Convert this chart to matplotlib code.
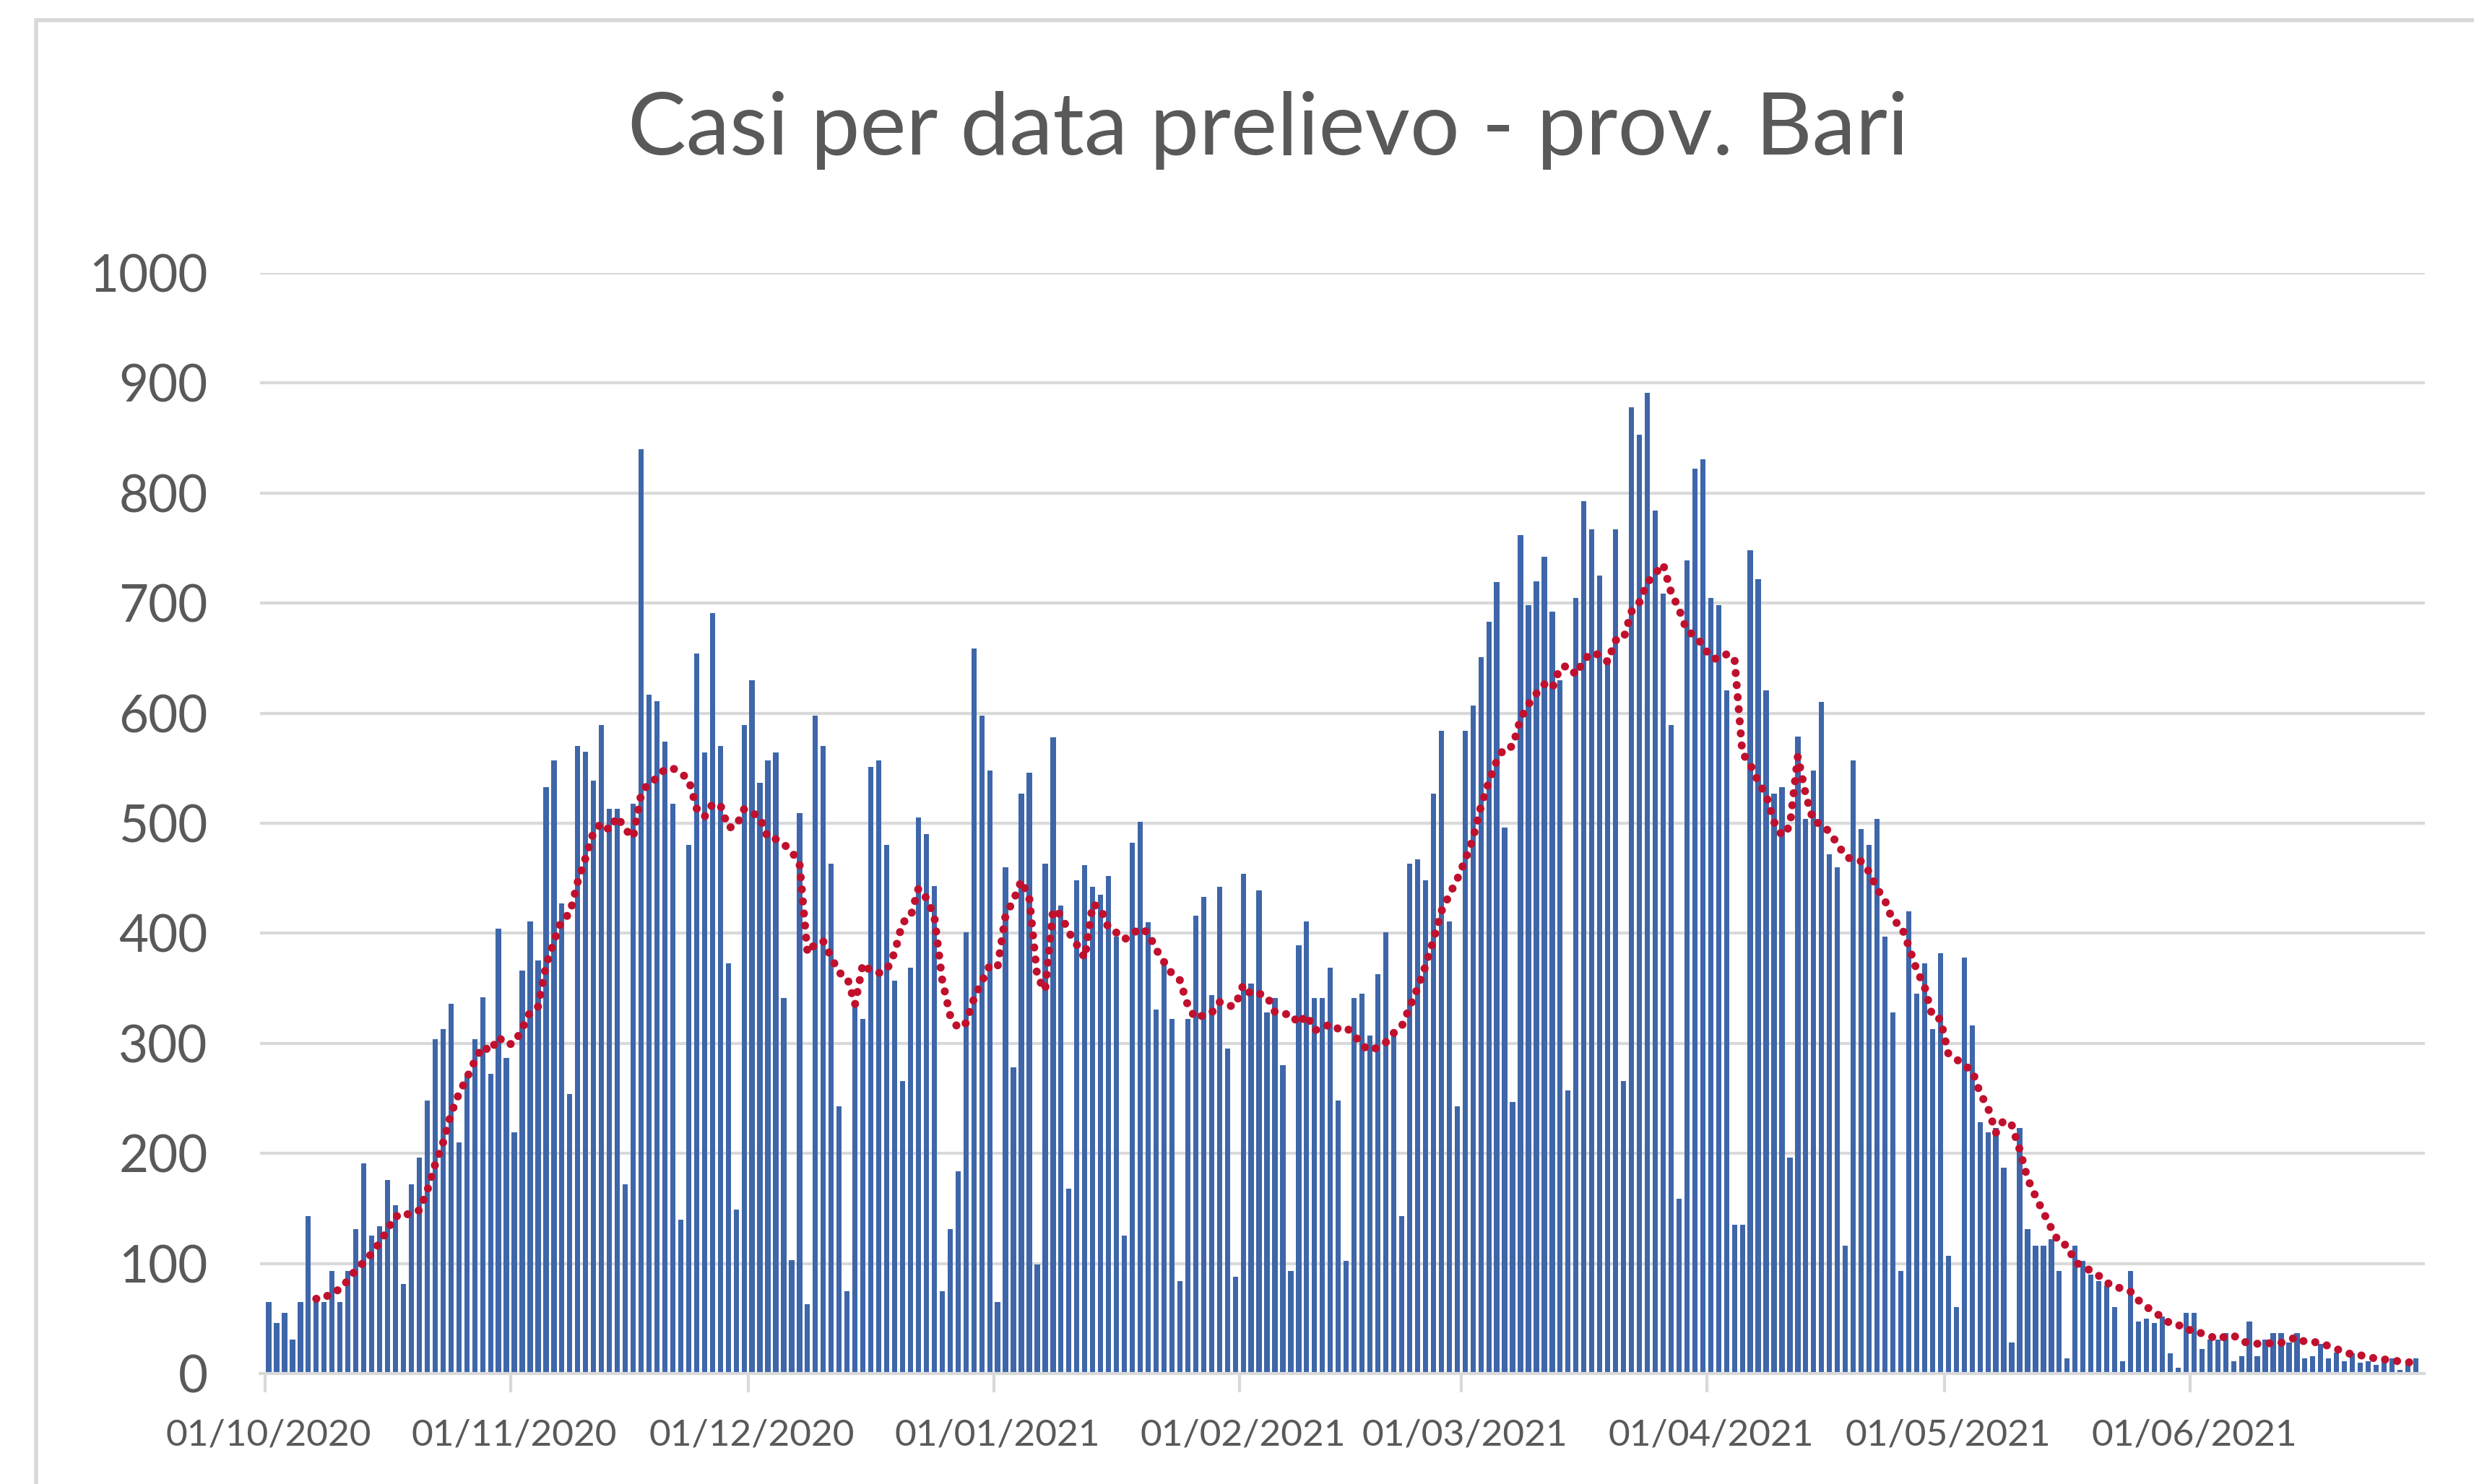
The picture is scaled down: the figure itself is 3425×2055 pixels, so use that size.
import numpy as np
import pandas as pd
import matplotlib
matplotlib.use('Agg')
import matplotlib.pyplot as plt
from matplotlib.patches import Rectangle

# casi giornalieri per data prelievo, a partire dal 01/10/2020
casi = [
    65, 46, 55, 31, 65, 143, 70, 65, 93, 65, 93, 131, 191, 125, 134, 176, 153, 81, 172, 196,
    248, 304, 313, 336, 210, 272, 304, 342, 272, 404, 287, 219, 366, 411, 375, 533, 557, 427, 254, 570,
    565, 539, 589, 513, 513, 172, 518, 840, 617, 611, 574, 518, 140, 480, 654, 564, 691, 570, 373, 149,
    589, 630, 537, 557, 564, 341, 103, 509, 63, 598, 570, 463, 243, 75, 336, 322, 551, 557, 480, 357,
    266, 369, 505, 490, 443, 75, 131, 184, 401, 659, 598, 548, 65, 460, 278, 527, 546, 99, 463, 578,
    425, 168, 448, 462, 442, 435, 452, 397, 125, 482, 501, 410, 331, 372, 322, 84, 322, 416, 433, 344,
    442, 295, 88, 454, 354, 439, 328, 341, 280, 93, 389, 411, 341, 341, 369, 248, 102, 341, 345, 307,
    363, 401, 307, 143, 463, 467, 448, 527, 584, 411, 243, 584, 607, 651, 683, 719, 496, 247, 762, 698,
    720, 742, 692, 630, 257, 705, 793, 767, 725, 650, 767, 266, 878, 853, 891, 784, 709, 589, 159, 739,
    822, 831, 705, 698, 621, 135, 135, 748, 722, 621, 527, 533, 196, 579, 504, 548, 610, 472, 460, 116,
    557, 495, 480, 504, 397, 328, 93, 420, 345, 373, 313, 382, 107, 60, 378, 316, 228, 219, 223, 187,
    28, 223, 131, 116, 116, 122, 93, 14, 116, 102, 90, 84, 80, 60, 11, 93, 47, 50, 46, 52,
    18, 5, 55, 55, 22, 31, 31, 37, 11, 16, 47, 16, 31, 37, 37, 28, 37, 14, 16, 27,
    14, 19, 11, 18, 10, 11, 8, 12, 14, 3, 12, 14,
]
giorni = pd.date_range('2020-10-01', periods=len(casi), freq='D')
y_ticks = list(range(0, 1001, 100))

# media mobile a 7 giorni (come la linea di tendenza di Excel)
media_mobile = pd.Series(casi).rolling(7).mean()

x = np.arange(len(casi))
mesi = [i for i, d in enumerate(giorni) if d.day == 1]
etichette_mesi = [giorni[i].strftime('%d/%m/%Y') for i in mesi]

plt.rcParams['font.family'] = ['Lato', 'DejaVu Sans']
grigio = '#595959'
grigio_chiaro = '#D9D9D9'

fig = plt.figure(figsize=(34.25, 20.55), dpi=100)
fig.patches.append(Rectangle((50 / 3425, -0.1), 1.2, 1.1 - 28 / 2055,
                             transform=fig.transFigure, fill=False,
                             edgecolor=grigio_chiaro, lw=4))

ax = fig.add_axes([0.1051, 0.0745, 0.8749, 0.7415])
ax.bar(x, casi, width=0.66, color='#3E66A9', zorder=2)
ax.plot(x, media_mobile, color='#C0102E', lw=8, linestyle=(0, (0.01, 1.5)),
        dash_capstyle='round', zorder=3)

ax.set_xlim(-1.1, 272.1)
ax.set_ylim(0, 1000)
ax.set_yticks(y_ticks)
ax.yaxis.grid(True, color=grigio_chiaro, lw=3)
ax.set_axisbelow(True)
for s in ['top', 'right', 'left']:
    ax.spines[s].set_visible(False)
ax.spines['bottom'].set_color(grigio_chiaro)
ax.spines['bottom'].set_linewidth(3)
ax.tick_params(axis='y', length=0, pad=52, labelsize=51, labelcolor=grigio)

ax.set_xticks([m - 0.5 for m in mesi])
ax.set_xticklabels([])
ax.set_xticks(mesi, minor=True)
ax.set_xticklabels(etichette_mesi, minor=True)
ax.tick_params(axis='x', which='major', length=19, width=3, color=grigio_chiaro)
ax.tick_params(axis='x', which='minor', length=0, pad=45, labelsize=37, labelcolor=grigio)

titolo = fig.text(0.5127, 0.912, 'Casi per data prelievo - prov. Bari',
                  ha='center', va='center', fontsize=90, color=grigio)
fig.canvas.draw()
w = titolo.get_window_extent().width
titolo.set_fontsize(90 * 1773 / w)

fig.savefig('out.png', dpi=100, facecolor='white')
